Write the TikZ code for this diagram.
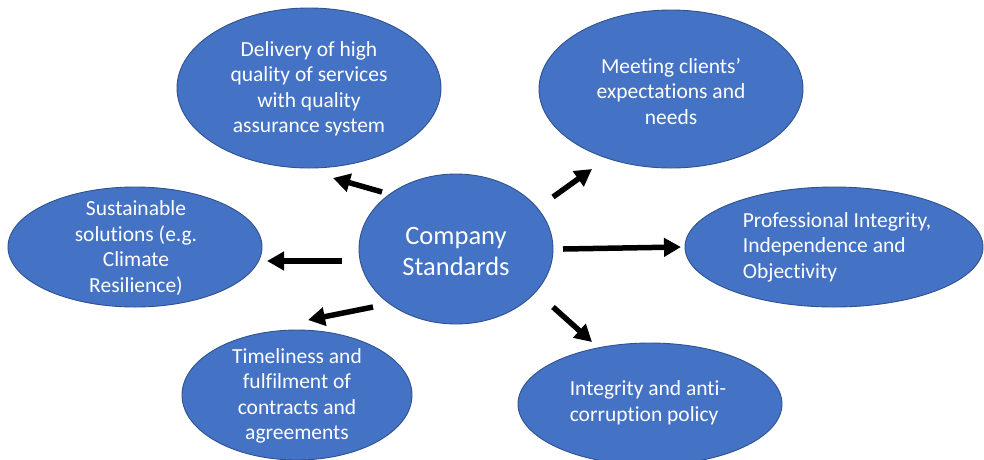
\documentclass[tikz,border=0pt]{standalone}
\usepackage{fontspec}
\setmainfont{Carlito}[Ligatures={NoCommon,NoRare,NoContextual}]
\usetikzlibrary{shapes.geometric,arrows.meta}
\definecolor{blobfill}{HTML}{4472C4}
\definecolor{blobline}{HTML}{2F528F}
\tikzset{
  blob/.style={ellipse, draw=blobline, line width=0.9pt, fill=blobfill, inner sep=0pt},
  txt/.style={text=white, font=\fontsize{21.5}{25.5}\selectfont, align=center, inner sep=0pt},
  bigtxt/.style={text=white, font=\fontsize{26.5}{31}\selectfont, align=center, inner sep=0pt},
  arr/.style={line width=5.5pt, -{Triangle[length=17pt,width=18pt]}}
}
\begin{document}
\begin{tikzpicture}[x=1pt,y=-1pt]
\useasboundingbox (0,0) rectangle (984,459);
% ellipses
\node[blob, minimum width=264pt, minimum height=160pt] (del) at (309,88) {};
\node[blob, minimum width=264pt, minimum height=158pt] (meet) at (671,89) {};
\node[blob, minimum width=194pt, minimum height=150pt] (cs) at (456,249) {};
\node[blob, minimum width=254pt, minimum height=120pt] (sus) at (135,247) {};
\node[blob, minimum width=298pt, minimum height=120pt] (prof) at (834,247) {};
\node[blob, minimum width=230pt, minimum height=130pt] (time) at (297,395) {};
\node[blob, minimum width=264pt, minimum height=122pt] (integ) at (650,404) {};
% texts
\node[txt] (delT) at (309,89) {Delivery of high\\quality of services\\with quality\\assurance system};
\node[txt] (meetT) at (671,91) {Meeting clients’\\expectations and\\needs};
\node[bigtxt] (csT) at (456,251) {Company\\Standards};
\node[txt] (susT) at (136,248) {Sustainable\\solutions (e.g.\\Climate\\Resilience)};
\node[txt, align=left] (profT) at (837,247) {Professional Integrity,\\Independence and\\Objectivity};
\node[txt] (timeT) at (297,396) {Timeliness and\\fulfilment of\\contracts and\\agreements};
\node[txt, align=left] (integT) at (648,403) {Integrity and anti-\\corruption policy};
% arrow ends
\coordinate (a1s) at (382,192); \coordinate (a1e) at (333,178);
\coordinate (a2s) at (553,197); \coordinate (a2e) at (592,169);
\coordinate (a3s) at (563,249); \coordinate (a3e) at (681,247);
\coordinate (a4s) at (553,307); \coordinate (a4e) at (592,342);
\coordinate (a5s) at (342,261); \coordinate (a5e) at (267,261);
\coordinate (a6s) at (373,307); \coordinate (a6e) at (308,320);
\draw[arr] (a1s) -- (a1e);
\draw[arr] (a2s) -- (a2e);
\draw[arr] (a3s) -- (a3e);
\draw[arr] (a4s) -- (a4e);
\draw[arr] (a5s) -- (a5e);
\draw[arr] (a6s) -- (a6e);
\end{tikzpicture}
\end{document}
